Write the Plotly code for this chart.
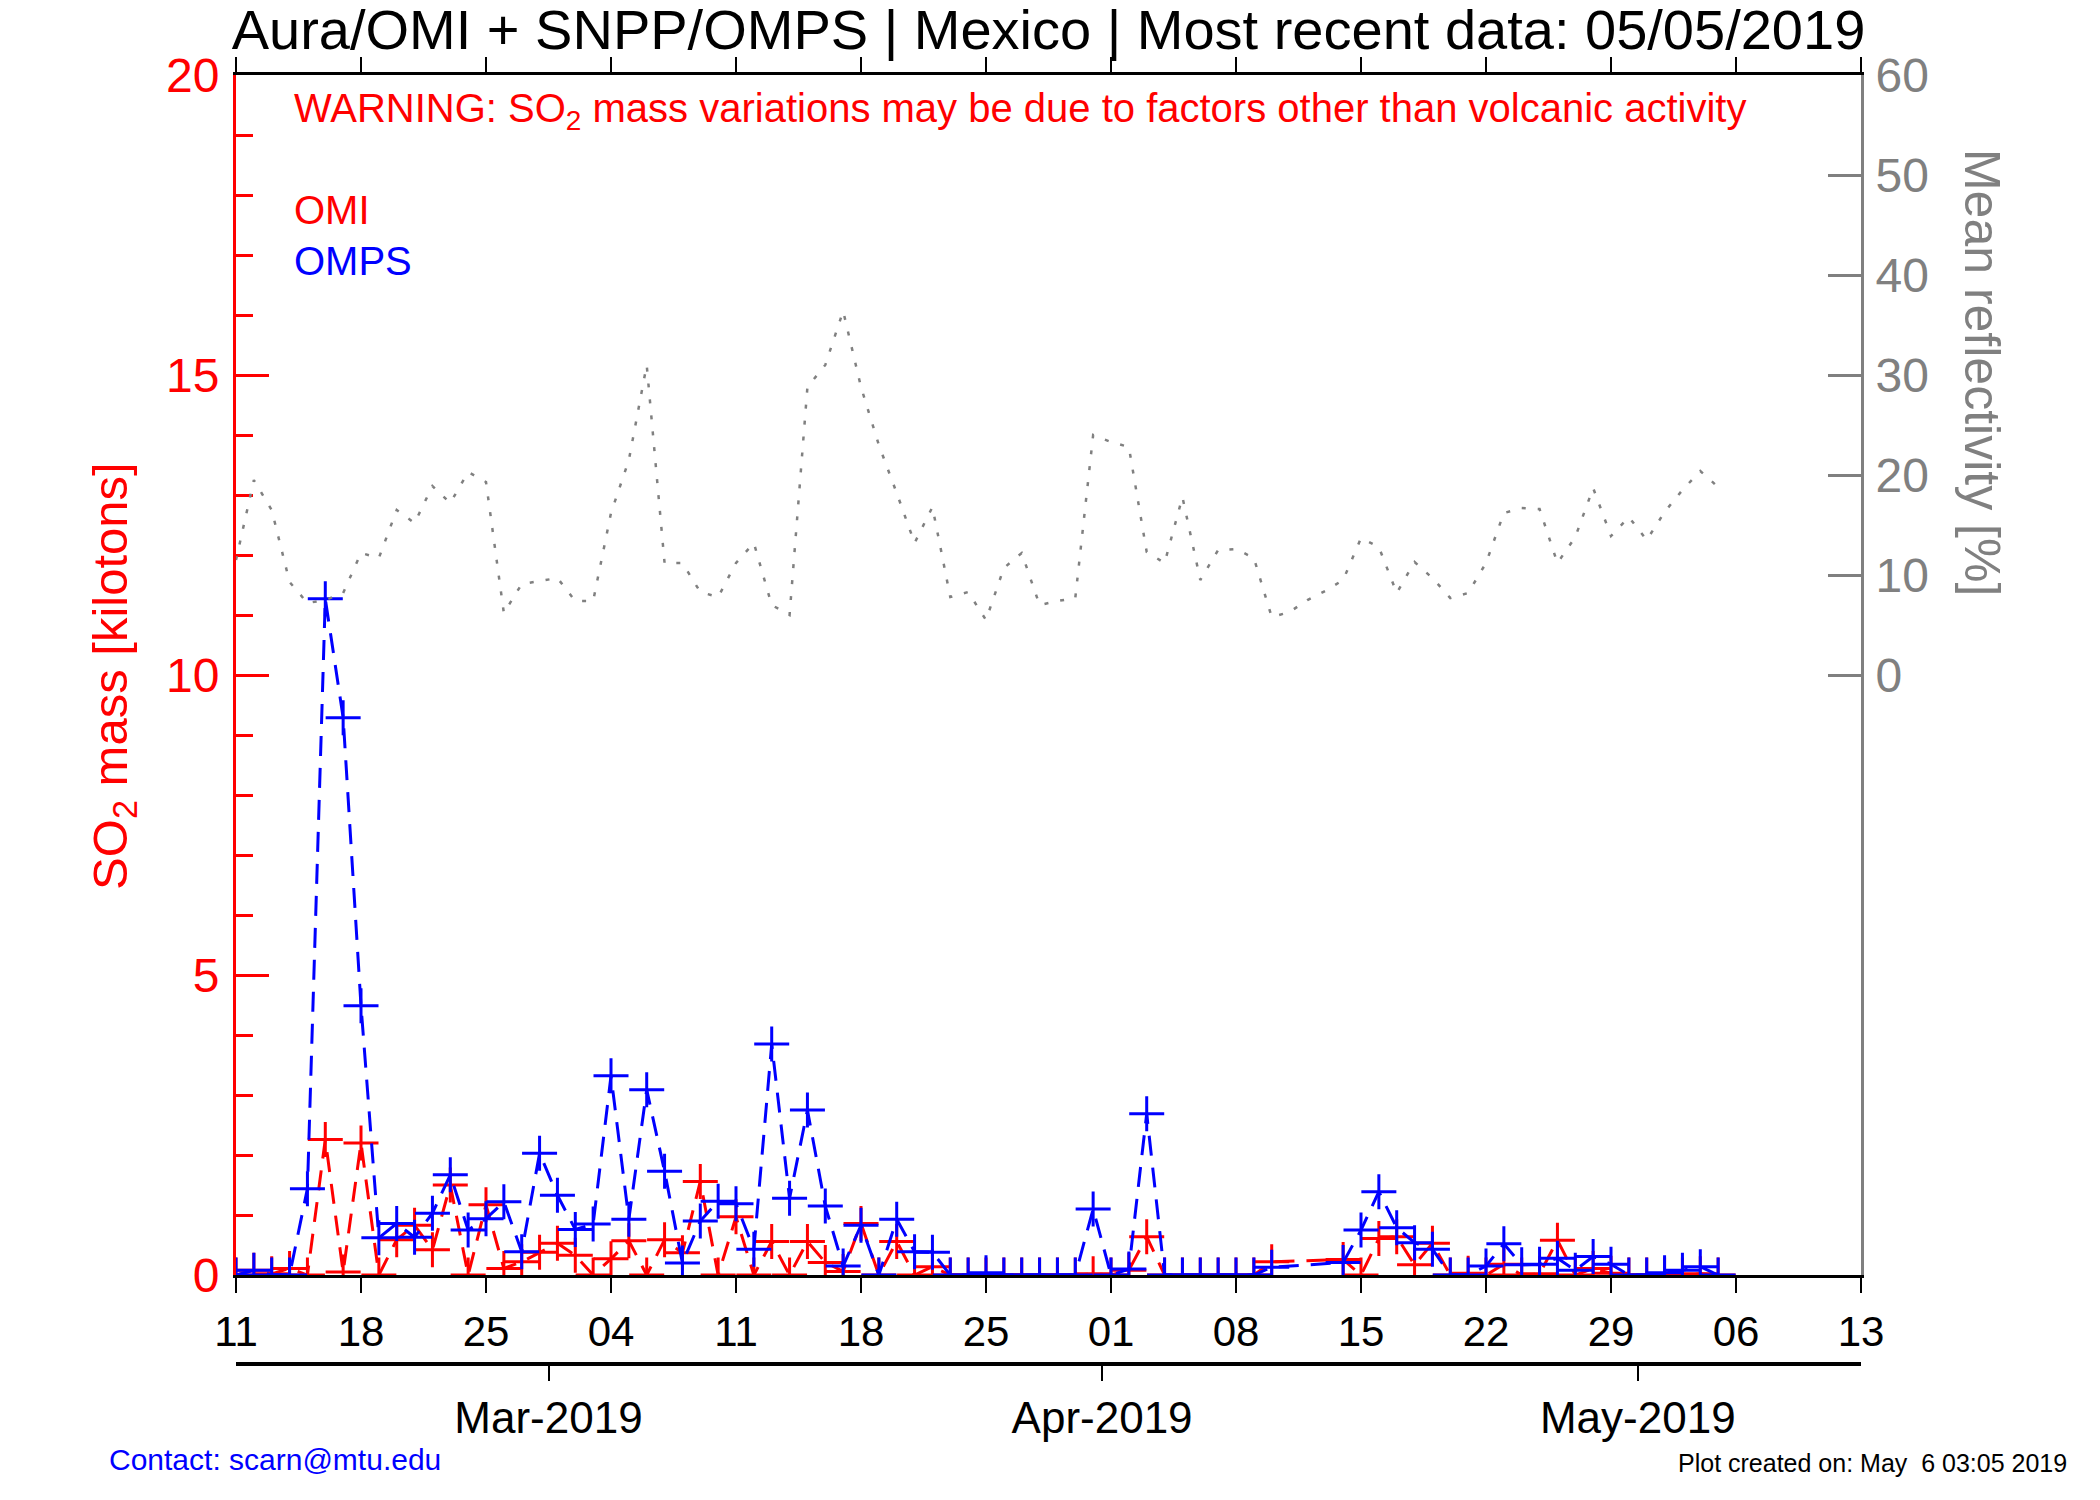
import pandas as pd
import plotly.graph_objects as go

FONT = "Liberation Sans, Arial, sans-serif"

# one value per day, 2019-02-11 .. 2019-05-05 (None = no data)
dates = pd.date_range("2019-02-11", "2019-05-05", freq="D").strftime("%Y-%m-%d").tolist()

omi_so2 = [
    0, 0.08, 0.02, 0.11, 0, 2.26, 0.05, 2.2, 0, 0.59,
    0.83, 0.42, 1.5, 0, 1.17, 0.11, 0.22, 0.38, 0.53, 0.33,
    0, 0.27, 0.57, 0, 0.59, 0.37, 1.56, 0, 0.97, 0,
    0.56, 0, 0.56, 0.21, 0.06, 0.86, 0, 0.56, 0, 0.14,
    0, 0, 0, 0, 0, 0, 0, 0, 0.02, 0,
    0.08, 0.64, 0, 0, 0, 0, 0, 0, 0.22, None,
    None, None, 0.26, 0, 0.61, 0.64, 0.17, 0.53, 0, 0.03,
    0, 0.18, 0, 0.02, 0.58, 0, 0.11, 0.03, 0, 0,
    0, 0, 0.02, 0,
]

omps_so2 = [
    0, 0.08, 0, 0, 1.44, 11.27, 9.29, 4.49, 0.62, 0.86,
    0.63, 1.03, 1.67, 0.75, 0.94, 1.22, 0.39, 2.03, 1.33, 0.76,
    0.85, 3.32, 0.93, 3.09, 1.73, 0.2, 0.9, 1.23, 1.19, 0.43,
    3.85, 1.28, 2.75, 1.15, 0.15, 0.83, 0, 0.93, 0.39, 0.38,
    0, 0, 0.04, 0, 0, 0, 0, 0, 1.1, 0,
    0.1, 2.69, 0, 0, 0, 0, 0, 0, 0.13, None,
    None, None, 0.21, 0.75, 1.39, 0.79, 0.54, 0.43, 0, 0,
    0.15, 0.52, 0.17, 0.18, 0.28, 0.08, 0.31, 0.18, 0, 0,
    0.04, 0.08, 0.14, 0,
]

reflectivity = [
    11.5, 19.5, 16.5, 9.3, 7.2, 7.5, 8.2, 12.2, 11.7, 16.5,
    15.2, 18.9, 17.2, 20.3, 19.3, 6.2, 9.1, 9.4, 9.7, 7.4,
    7.4, 16.2, 21.5, 31.0, 11.2, 11.2, 8.3, 7.8, 11.2, 13.2,
    7.0, 6.0, 28.8, 31.0, 36.4, 28.8, 23.0, 18.2, 13.2, 16.8,
    7.8, 8.3, 5.5, 10.7, 12.2, 7.0, 7.4, 7.7, 24.0, 23.3,
    22.8, 12.3, 11.2, 17.8, 9.5, 12.5, 12.6, 11.7, 5.8, 6.3,
    7.5, 8.4, 9.5, 13.7, 12.8, 8.2, 11.3, 9.7, 7.7, 8.2,
    11.2, 16.2, 16.7, 16.6, 11.2, 13.8, 18.7, 13.9, 15.8, 13.5,
    16.3, 18.5, 20.4, 18.8,
]

x_range = ["2019-02-11", "2019-05-13"]
# month ticks sit half a day early in the original (julian-day noon)
month_ticks = ["2019-02-28 12:00", "2019-03-31 12:00", "2019-04-30 12:00"]
month_labels = ["Mar-2019", "Apr-2019", "May-2019"]
refl_ticks = [0, 10, 20, 30, 40, 50, 60]

title = "Aura/OMI + SNPP/OMPS | Mexico | Most recent data: 05/05/2019"
warning = "WARNING: SO<sub>2</sub> mass variations may be due to factors other than volcanic activity"

fig = go.Figure()

fig.add_trace(go.Scatter(
    x=dates, y=reflectivity, yaxis="y2", mode="lines",
    line=dict(color="gray", width=2.5, dash="4px,12px"),
    connectgaps=True, hoverinfo="skip",
))

for vals, color in [(omi_so2, "red"), (omps_so2, "blue")]:
    fig.add_trace(go.Scatter(
        x=dates, y=vals, mode="lines+markers",
        line=dict(color=color, width=3, dash="20px,12px"),
        marker=dict(symbol="cross-thin", size=25, line=dict(width=3, color=color)),
        connectgaps=True,
    ))

# empty trace so the month axis below the plot gets drawn
fig.add_trace(go.Scatter(
    x=month_ticks, y=[None] * len(month_ticks), xaxis="x2", mode="markers",
    hoverinfo="skip",
))

fig.update_layout(
    width=2092,
    height=1492,
    margin=dict(l=228, r=239, t=67, b=136),
    plot_bgcolor="white",
    paper_bgcolor="white",
    font=dict(family=FONT, color="black"),
    showlegend=False,
    title=dict(
        text=title, x=0.5, xref="paper", xanchor="center",
        y=0.986, yanchor="middle", font=dict(size=56, color="black"),
    ),
    xaxis=dict(
        type="date", range=x_range, tick0="2019-02-11", dtick=7 * 86400000,
        tickformat="%d", ticks="outside", ticklen=15, tickwidth=2, tickcolor="black",
        showline=True, linecolor="black", linewidth=3, mirror="ticks",
        showgrid=False, zeroline=False, tickfont=dict(size=42),
        ticklabelstandoff=3, layer="below traces",
    ),
    xaxis2=dict(
        type="date", range=x_range, overlaying="x", anchor="free", position=0,
        side="bottom", tickmode="array", tickvals=month_ticks, ticktext=month_labels,
        ticks="outside", ticklen=15, tickwidth=2, tickcolor="black",
        showline=True, linecolor="black", linewidth=4,
        showgrid=False, zeroline=False, tickfont=dict(size=44),
        ticklabelstandoff=-1,
    ),
    yaxis=dict(
        domain=[0.069, 1], range=[0, 20], tick0=0, dtick=5,
        ticks="inside", ticklen=33, tickwidth=3, tickcolor="red",
        showline=True, linecolor="red", linewidth=3,
        tickfont=dict(size=48, color="red"), ticklabelstandoff=4,
        minor=dict(dtick=1, ticks="inside", ticklen=17, tickwidth=3, tickcolor="red", showgrid=False),
        showgrid=False, zeroline=False, layer="below traces",
    ),
    yaxis2=dict(
        overlaying="y", side="right", range=[-60, 60],
        tickmode="array", tickvals=refl_ticks,
        ticks="inside", ticklen=33, tickwidth=3, tickcolor="gray",
        showline=True, linecolor="gray", linewidth=3,
        tickfont=dict(size=48, color="gray"), ticklabelstandoff=2,
        showgrid=False, zeroline=False, layer="below traces",
    ),
    annotations=[
        dict(text=warning, xref="paper", yref="paper", x=0.0345, y=0.972,
             xanchor="left", yanchor="middle", showarrow=False,
             font=dict(size=40, color="red")),
        dict(text="OMI", xref="paper", yref="paper", x=0.0345, y=0.895,
             xanchor="left", yanchor="middle", showarrow=False,
             font=dict(size=40, color="red")),
        dict(text="OMPS", xref="paper", yref="paper", x=0.0345, y=0.8557,
             xanchor="left", yanchor="middle", showarrow=False,
             font=dict(size=40, color="blue")),
        dict(text="SO<sub>2</sub> mass [kilotons]", xref="paper", yref="paper",
             x=-0.0751, y=0.5338, xanchor="center", yanchor="middle",
             textangle=-90, showarrow=False, font=dict(size=49, color="red")),
        dict(text="Mean reflectivity [%]", xref="paper", yref="paper",
             x=1.0745, y=0.7696, xanchor="center", yanchor="middle",
             textangle=90, showarrow=False, font=dict(size=50, color="gray")),
        dict(text="Contact: scarn@mtu.edu", xref="paper", yref="paper",
             x=-0.0794, y=-0.074, xanchor="left", yanchor="middle",
             showarrow=False, font=dict(size=30, color="blue")),
        dict(text="Plot created on: May \u00a06 03:05 2019", xref="paper", yref="paper",
             x=1.128, y=-0.0768, xanchor="right", yanchor="middle",
             showarrow=False, font=dict(size=25, color="black")),
    ],
)

fig.write_html("out.html")
